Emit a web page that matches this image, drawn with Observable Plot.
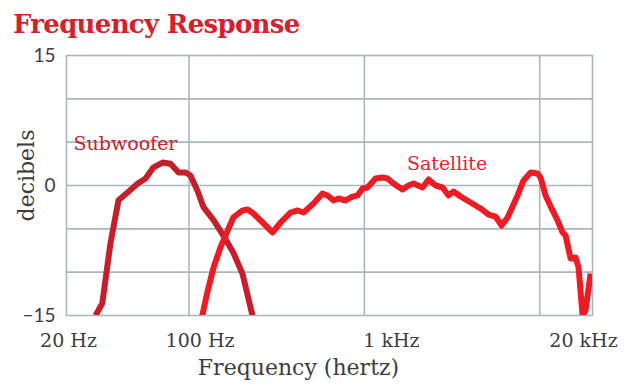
<!DOCTYPE html>
<html>
<head>
<meta charset="utf-8">
<script src="https://cdn.jsdelivr.net/npm/d3@7"></script>
<script src="https://cdn.jsdelivr.net/npm/@observablehq/plot@0.6"></script>
<style>
  html, body { margin: 0; padding: 0; background: #fff; width: 625px; height: 388px; overflow: hidden; }
  #title { position: relative; height: 44px; }
  #title span { position: absolute; left: 13px; top: 11px; line-height: 1; font-family: "DejaVu Serif", serif; font-weight: bold; font-size: 26px; color: #d3222e; white-space: nowrap; letter-spacing: -0.7px; }
</style>
</head>
<body>
<div id="title"><span>Frequency Response</span></div>
<div id="chart"></div>
<script>
// ---- data ----
const subFreq = [29.3, 32, 35.6, 39.6, 44.6, 50.8, 56.5, 62.7, 70.6, 78.4, 87.1, 95.5, 101.9, 111.7, 120.9, 138, 157.3, 179.4, 201.8, 230];
const subDb   = [-15, -13.6, -6.7, -1.7, -0.8, 0.2, 0.8, 2.1, 2.65, 2.5, 1.5, 1.5, 1.15, -0.6, -2.5, -4.0, -5.8, -7.8, -10.2, -15];

const satFreq = [119, 127, 138, 151, 166, 179, 202, 216, 233, 263, 299, 333, 379, 416, 450, 513, 577, 617, 667, 712, 781, 834, 914, 976, 1042, 1158, 1270, 1356, 1466, 1650, 1786, 1908, 2148, 2324, 2548, 2793, 3021, 3227, 3537, 4034, 4601, 5110, 5604, 6062, 6558, 7478, 8091, 8872, 9728, 10116, 10800, 11840, 12650, 13500, 14050, 15000, 16020, 16660, 17560, 18270, 19500];
const satDb   = [-15, -12.35, -9.46, -7.15, -5.19, -3.69, -2.88, -2.77, -3.23, -4.27, -5.42, -4.27, -3.12, -2.88, -3.12, -2.08, -0.92, -1.15, -1.73, -1.5, -1.73, -1.38, -1.15, -0.35, -0.23, 0.81, 0.92, 0.81, 0.23, -0.46, 0, 0.23, -0.23, 0.69, 0, -0.23, -1.15, -0.69, -1.27, -1.96, -2.65, -3.35, -3.58, -4.62, -3.69, -1.15, 0.58, 1.5, 1.38, 0.92, -1.15, -2.88, -4.04, -5.42, -5.77, -8.42, -8.31, -9.46, -15, -14.4, -10.15];

const seriesNames = ["Subwoofer", "Satellite"];
const labelFreq = [43.4, 2962];
const labelDb = [4.85, 2.54];

const xTickValues = [20, 100, 1000, 20000];
const xTickLabels = ["20 Hz", "100 Hz", "1 kHz", "20 kHz"];
const yTickValues = [-15, 0, 15];
const xGridValues = [100, 1000, 10000];
const yGridValues = [-10, -5, 0, 5, 10];

// ---- styles ----
const colors = {Subwoofer: "#c41f2b", Satellite: "#ec1c24"};
const labelColors = {Subwoofer: "#c0262e", Satellite: "#e6232b"};
const gridColor = "#a9b6c0";
const textColor = "#3d3d3d";
const serif = "DejaVu Serif, serif";
const xLabelDx = [2, 11, 27, -9];

const sub = subFreq.map((f, i) => ({f, db: subDb[i]}));
const sat = satFreq.map((f, i) => ({f, db: satDb[i]}));
const labels = seriesNames.map((name, i) => ({name, f: labelFreq[i], db: labelDb[i]}));

const xAxes = xTickValues.map((v, i) => Plot.axisX({
  ticks: [v], tickFormat: () => xTickLabels[i], tickSize: 0, tickPadding: 18,
  dx: xLabelDx[i], label: null, fontSize: 19, fontFamily: serif, fill: textColor
}));

const chart = Plot.plot({
  width: 625, height: 344,
  marginTop: 11, marginBottom: 73, marginLeft: 66, marginRight: 33,
  style: {background: "transparent", overflow: "visible"},
  x: {type: "log", domain: [20, 20000]},
  y: {domain: [-15, 15]},
  marks: [
    Plot.gridY(yGridValues, {stroke: gridColor, strokeOpacity: 1, strokeWidth: 1.6}),
    Plot.gridX(xGridValues, {stroke: gridColor, strokeOpacity: 1, strokeWidth: 1.6}),
    Plot.frame({stroke: gridColor, strokeWidth: 1.6}),
    Plot.line(sub, {x: "f", y: "db", stroke: colors.Subwoofer, strokeWidth: 6, strokeLinejoin: "round", strokeLinecap: "butt", clip: true}),
    Plot.line(sat, {x: "f", y: "db", stroke: colors.Satellite, strokeWidth: 6, strokeLinejoin: "round", strokeLinecap: "butt", clip: true}),
    Plot.text(labels, {x: "f", y: "db", text: "name", fill: d => labelColors[d.name], fontSize: 19, fontFamily: serif, textAnchor: "middle"}),
    Plot.axisY({ticks: yTickValues, tickSize: 0, tickPadding: 11, label: null, fontSize: 19, fontFamily: "Lato, sans-serif", fill: textColor}),
    ...xAxes,
    Plot.text(["Frequency (hertz)"], {frameAnchor: "bottom", textAnchor: "middle", lineAnchor: "bottom", dy: 59, dx: -31, fontSize: 22, fontFamily: serif, fill: textColor}),
    Plot.text(["decibels"], {frameAnchor: "left", textAnchor: "middle", lineAnchor: "bottom", rotate: -90, dx: -33, dy: -10, fontSize: 22, fontFamily: serif, fill: textColor})
  ]
});
document.getElementById("chart").appendChild(chart);
</script>
</body>
</html>
